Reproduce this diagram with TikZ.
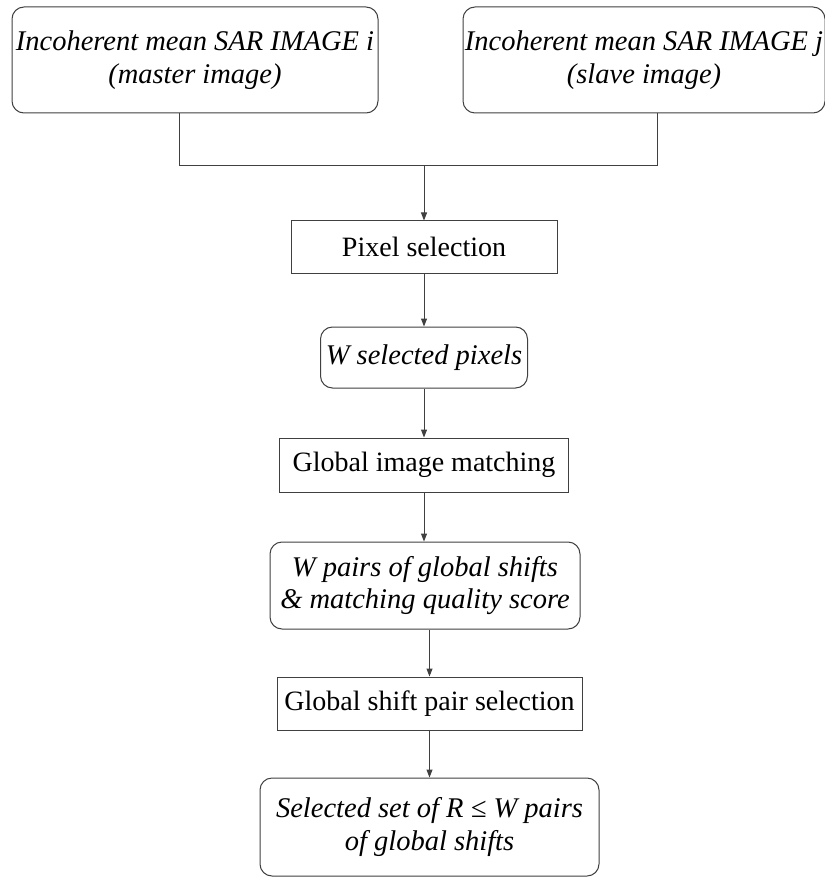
\documentclass[tikz,border=0pt]{standalone}
\usepackage{fontspec}
\setmainfont{Liberation Serif}
\usetikzlibrary{positioning,calc,arrows.meta}

\begin{document}
\begin{tikzpicture}[x=1pt,y=-1pt,
    proc/.style={draw=black!75, line width=1pt, fill=white, inner sep=0pt,
        align=center, font=\fontsize{28}{32}\selectfont},
    data/.style={proc, rounded corners=12pt,
        font=\fontsize{28.5}{32.5}\selectfont\itshape},
    link/.style={draw=black!75, line width=1pt,
        -{Triangle[length=8pt,width=6pt]}}]

    % Page frame, measured in pixels from the top left corner
    \useasboundingbox (0,0) rectangle (824,877);

    % The two input images
    \node[data, minimum width=366, minimum height=106] (master) at (195,60)
        {Incoherent mean SAR IMAGE i\\(master image)};
    \node[data, minimum width=362, minimum height=106] (slave) at (644,60)
        {Incoherent mean SAR IMAGE j\\(slave image)};

    % Processing chain
    \node[proc, minimum width=266, minimum height=52] (pixsel) at (424,247)
        {Pixel selection};
    \node[data, minimum width=207, minimum height=61] (wsel) at (424,357.5)
        {W selected pixels};
    \node[proc, minimum width=289, minimum height=54] (gmatch) at (424,465)
        {Global image matching};
    \node[data, minimum width=310, minimum height=87] (wpairs) at (425,585.5)
        {W pairs of global shifts\\\& matching quality score};
    \node[proc, minimum width=305, minimum height=53] (pairsel) at (429.5,703.5)
        {Global shift pair selection};
    \node[data, minimum width=339, minimum height=98] (rset) at (429.5,827)
        {Selected set of R ≤ W pairs\\of global shifts};

    % Joining the two inputs
    \coordinate (mstub) at (179,166);
    \coordinate (sstub) at (657,166);
    \coordinate (join) at (pixsel.north |- mstub);
    \draw[draw=black!75, line width=1pt]
        (master.south -| mstub) -- (mstub) -- (sstub) -- (slave.south -| sstub);
    \draw[link] (join) -- (pixsel.north);

    \draw[link] (pixsel) -- (wsel);
    \draw[link] (wsel) -- (gmatch);
    \draw[link] (gmatch.south) -- (wpairs.north -| gmatch.south);
    \draw[link] (wpairs.south -| pairsel.north) -- (pairsel.north);
    \draw[link] (pairsel) -- (rset);
\end{tikzpicture}
\end{document}
